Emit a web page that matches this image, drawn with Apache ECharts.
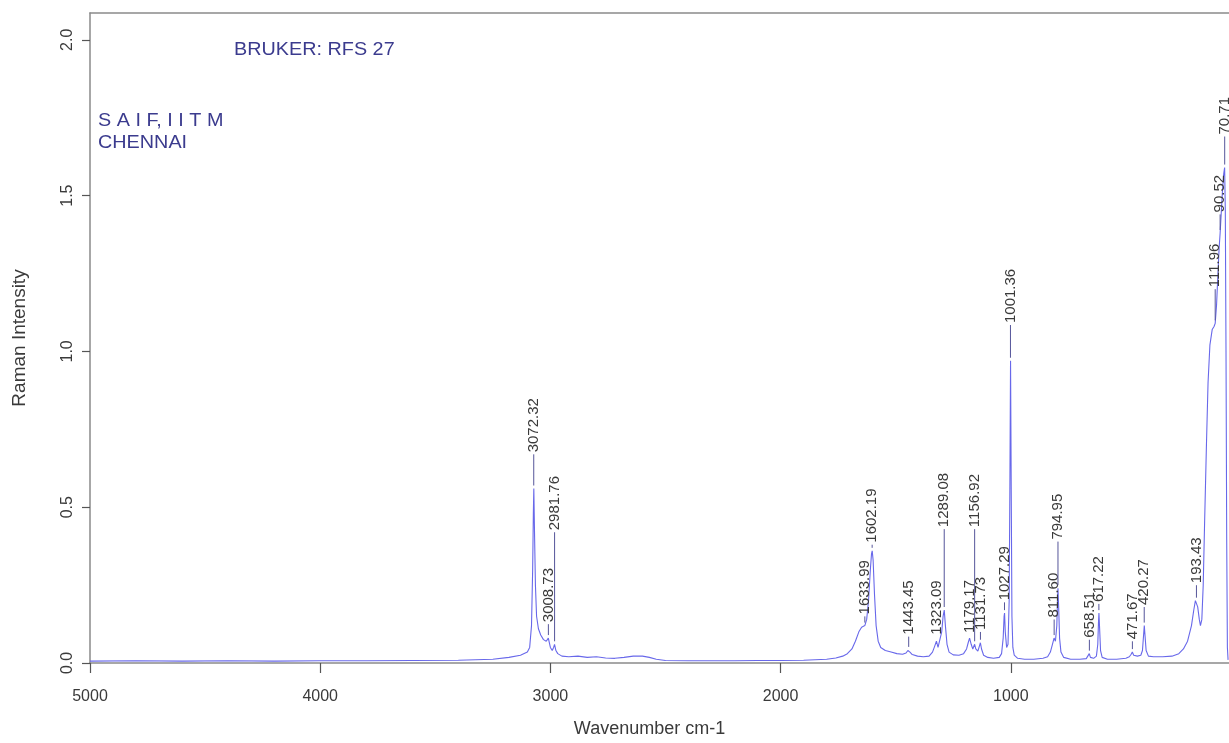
<!DOCTYPE html>
<html>
<head>
<meta charset="utf-8">
<script src="https://cdn.jsdelivr.net/npm/echarts@6/dist/echarts.min.js"></script>
<style>
html,body{margin:0;padding:0;background:#fff;}
#chart{width:1229px;height:743px;}
</style>
</head>
<body>
<div id="chart"></div>
<script>
// ---- DATA ----
const wavenumbers = [5000,4800,4600,4400,4200,4000,3800,3600,3400,3250,3180,3130,3100,3090,3082,3077,3074,3072,3069,3065,3060,3052,3042,3030,3018,3009,3000,2992,2986,2982,2976,2968,2950,2920,2880,2840,2800,2760,2720,2680,2640,2600,2570,2540,2500,2400,2300,2200,2100,2000,1900,1800,1760,1730,1710,1690,1675,1660,1648,1640,1634,1626,1618,1610,1605,1602,1598,1592,1585,1576,1565,1545,1520,1495,1470,1455,1447,1443,1438,1428,1405,1380,1355,1340,1330,1323,1316,1308,1300,1294,1289,1284,1277,1268,1250,1225,1205,1192,1185,1179,1172,1165,1160,1157,1152,1143,1136,1132,1127,1118,1100,1075,1050,1040,1033,1029,1027,1024,1018,1012,1007,1004,1001,998,995,991,985,970,940,900,860,840,828,819,812,806,800,797,795,792,788,782,770,740,700,672,664,659,654,640,628,622,619,617,614,610,603,580,540,500,485,477,472,466,450,435,428,424,420,417,412,402,380,340,300,270,250,232,215,205,198,193,188,181,176,170,164,158,150,143,135,125,117,112,106,100,95,90.5,86,80,75,71,68,65,62,59,56];
const intensities = [0.006,0.007,0.006,0.007,0.006,0.007,0.007,0.008,0.009,0.012,0.018,0.025,0.035,0.05,0.12,0.3,0.48,0.56,0.42,0.25,0.15,0.11,0.09,0.075,0.07,0.08,0.05,0.04,0.05,0.06,0.04,0.03,0.022,0.02,0.022,0.018,0.02,0.016,0.015,0.018,0.022,0.022,0.018,0.012,0.008,0.007,0.007,0.007,0.008,0.008,0.009,0.012,0.016,0.022,0.03,0.045,0.07,0.1,0.115,0.12,0.12,0.14,0.2,0.3,0.35,0.36,0.33,0.22,0.12,0.07,0.05,0.04,0.035,0.03,0.028,0.032,0.04,0.042,0.035,0.027,0.022,0.02,0.022,0.035,0.055,0.07,0.05,0.055,0.1,0.15,0.17,0.12,0.06,0.035,0.026,0.025,0.03,0.045,0.065,0.08,0.06,0.045,0.05,0.06,0.045,0.038,0.055,0.065,0.045,0.025,0.018,0.015,0.018,0.03,0.08,0.15,0.16,0.1,0.05,0.06,0.2,0.55,0.97,0.55,0.15,0.05,0.025,0.015,0.012,0.012,0.015,0.02,0.035,0.06,0.08,0.07,0.12,0.2,0.24,0.18,0.08,0.035,0.018,0.012,0.012,0.014,0.02,0.03,0.018,0.015,0.022,0.06,0.13,0.16,0.11,0.04,0.018,0.012,0.012,0.015,0.02,0.028,0.035,0.025,0.022,0.025,0.04,0.08,0.12,0.09,0.04,0.022,0.02,0.02,0.022,0.03,0.045,0.07,0.12,0.17,0.2,0.2,0.18,0.14,0.12,0.14,0.25,0.45,0.7,0.9,1.02,1.07,1.08,1.09,1.15,1.25,1.33,1.38,1.44,1.52,1.57,1.59,1.45,1.0,0.4,0.05,0.01];

const peakPositions = [3072.32,3008.73,2981.76,1633.99,1602.19,1443.45,1323.09,1289.08,1179.17,1156.92,1131.73,1027.29,1001.36,811.60,794.95,658.51,617.22,471.67,420.27,193.43,111.96,90.52,70.71];
const peakLabels = ['3072.32','3008.73','2981.76','1633.99','1602.19','1443.45','1323.09','1289.08','1179.17','1156.92','1131.73','1027.29','1001.36','811.60','794.95','658.51','617.22','471.67','420.27','193.43','111.96','90.52','70.71'];
const peakHeights = [0.56,0.08,0.06,0.12,0.36,0.042,0.07,0.17,0.08,0.06,0.065,0.16,0.97,0.08,0.24,0.03,0.16,0.035,0.12,0.2,1.09,1.38,1.59];
const labelLevels = [0.66,0.115,0.41,0.14,0.37,0.075,0.075,0.42,0.08,0.42,0.09,0.185,1.075,0.13,0.38,0.065,0.18,0.06,0.17,0.24,1.19,1.43,1.68];

const xTicks = [5000,4000,3000,2000,1000];
const yTicks = [0.0,0.5,1.0,1.5,2.0];

// ---- BUILD ----
const spectrum = wavenumbers.map((w,i)=>[w,intensities[i]]);
const peaks = peakPositions.map((w,i)=>[w,peakHeights[i],labelLevels[i]]);

const chart = echarts.init(document.getElementById('chart'), null, {renderer:'canvas'});
const axisColor = '#8a8a8a';
const textColor = '#3a3a3a';
const navy = '#3b3b8e';
const font = 'Liberation Sans, Arial, sans-serif';

chart.setOption({
  backgroundColor:'#ffffff',
  animation:false,
  grid:{left:90, top:13, bottom:63, right:0, show:false, containLabel:false},
  xAxis:[{
    type:'value', inverse:true, min:52, max:5000,
    name:'Wavenumber cm-1', nameLocation:'middle', nameGap:57,
    nameTextStyle:{fontFamily:font, fontSize:18, color:textColor, padding:[0,20,0,0]},
    axisLine:{show:true, lineStyle:{color:axisColor, width:1.5}},
    axisTick:{show:true, length:10, inside:false, customValues:xTicks, lineStyle:{color:'#555', width:1.2}},
    axisLabel:{margin:26, fontFamily:font, fontSize:16, color:textColor, customValues:xTicks,
      formatter:v=>String(v)},
    splitLine:{show:false}
  },{
    type:'value', inverse:true, min:52, max:5000, position:'top',
    axisLine:{show:true, lineStyle:{color:axisColor, width:1.5}},
    axisTick:{show:false}, axisLabel:{show:false}, splitLine:{show:false}
  }],
  yAxis:{
    type:'value', min:0, max:2.086,
    name:'Raman Intensity', nameLocation:'middle', nameGap:61, nameRotate:90,
    nameTextStyle:{fontFamily:font, fontSize:19, color:textColor},
    axisLine:{show:true, lineStyle:{color:axisColor, width:1.5}},
    axisTick:{show:true, length:8, customValues:yTicks, lineStyle:{color:'#555', width:1.2}},
    axisLabel:{margin:14, rotate:90, fontFamily:font, fontSize:16, color:textColor, customValues:yTicks,
      formatter:v=>v.toFixed(1)},
    splitLine:{show:false}
  },
  series:[
    {
      type:'line', data:spectrum, showSymbol:false, symbol:'none', smooth:false,
      lineStyle:{color:'#6868ea', width:1.1}, clip:true, z:3
    },
    {
      type:'custom', data:peaks, z:4, clip:false,
      encode:{x:0, y:1},
      renderItem:function(params, api){
        const w = api.value(0), h = api.value(1), lv = api.value(2);
        const p0 = api.coord([w,h]);
        const p1 = api.coord([w,lv]);
        const yStart = p0[1]-3;
        const yEnd = p1[1]-3;
        const children = [];
        if (yStart - yEnd > 2) {
          children.push({type:'line', shape:{x1:p0[0], y1:yStart, x2:p0[0], y2:yEnd},
            style:{stroke:'#55559a', lineWidth:1}});
        }
        children.push({type:'text', x:p1[0], y:p1[1]-5, rotation:Math.PI/2,
          style:{text:peakLabels[params.dataIndex], x:0, y:0, align:'left', verticalAlign:'middle',
            fontFamily:font, fontSize:15, fill:textColor}});
        return {type:'group', children:children};
      }
    }
  ],
  graphic:[
    {type:'text', left:234, top:41, scaleX:1.1, style:{text:'BRUKER: RFS 27', fontFamily:font, fontSize:18, fill:navy}},
    {type:'text', left:98, top:112, scaleX:1.1, style:{text:'S A I F, I I T M', fontFamily:font, fontSize:18, fill:navy}},
    {type:'text', left:98, top:134, scaleX:1.1, style:{text:'CHENNAI', fontFamily:font, fontSize:18, fill:navy}}
  ]
});
</script>
</body>
</html>
